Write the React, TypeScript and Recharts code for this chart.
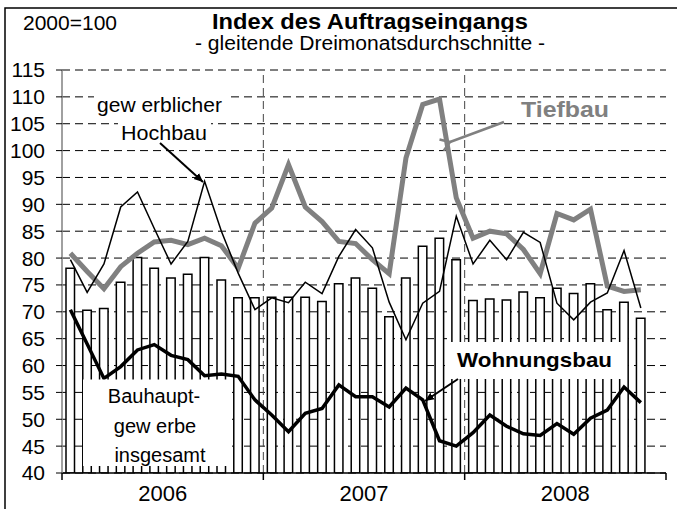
import React from "react";
import {
  Bar,
  CartesianGrid,
  ComposedChart,
  Line,
  ReferenceLine,
  XAxis,
  YAxis,
} from "recharts";

const FONT = '"Liberation Sans", Arial, sans-serif';

// 3-month moving averages, Jan 2006 .. Dec 2008 (Dec 2008 not yet available)
const months = [
  "01/06", "02/06", "03/06", "04/06", "05/06", "06/06", "07/06", "08/06", "09/06", "10/06", "11/06", "12/06",
  "01/07", "02/07", "03/07", "04/07", "05/07", "06/07", "07/07", "08/07", "09/07", "10/07", "11/07", "12/07",
  "01/08", "02/08", "03/08", "04/08", "05/08", "06/08", "07/08", "08/08", "09/08", "10/08", "11/08", "12/08",
];
const bauhaupt = [
  78.1, 70.3, 70.6, 75.5, 80.1, 78.1, 76.3, 77.0, 80.1, 75.9, 72.6, 72.6,
  72.7, 72.7, 72.7, 71.9, 75.2, 76.3, 74.4, 69.1, 76.3, 82.2, 83.7, 79.7,
  72.1, 72.4, 72.2, 73.7, 72.6, 74.4, 73.4, 75.2, 70.4, 71.8, 68.8, null,
];
const hochbau = [
  79.7, 73.6, 78.9, 89.5, 92.3, 85.5, 78.9, 83.1, 94.3, 85.0, 77.2, 70.4,
  72.6, 71.7, 75.5, 73.4, 80.3, 85.3, 81.9, 71.8, 64.8, 71.6, 73.8, 87.8,
  78.9, 83.3, 79.7, 84.8, 82.9, 71.6, 68.5, 71.8, 73.5, 81.4, 70.7, null,
];
const tiefbau = [
  80.9, 77.5, 74.3, 78.4, 80.9, 83.0, 83.3, 82.5, 83.7, 82.3, 78.1, 86.5,
  89.3, 97.4, 89.5, 86.8, 83.1, 82.7, 79.7, 77.1, 98.6, 108.6, 109.6, 91.2,
  83.7, 85.0, 84.5, 81.6, 77.1, 88.3, 87.1, 89.1, 74.8, 73.8, 74.1, null,
];
const wohnungsbau = [
  70.4, 64.0, 57.6, 59.8, 62.9, 63.9, 61.9, 61.1, 58.1, 58.4, 58.0, 53.6,
  50.8, 47.7, 51.1, 52.0, 56.4, 54.2, 54.2, 52.3, 55.8, 53.6, 46.0, 45.0,
  47.5, 50.8, 48.7, 47.3, 47.0, 49.2, 47.2, 50.2, 51.7, 56.0, 53.1, null,
];

const yTicks = [40, 45, 50, 55, 60, 65, 70, 75, 80, 85, 90, 95, 100, 105, 110, 115];
const years = ["2006", "2007", "2008"];
const yearStartIdx = [0, 12, 24];
// year label sits at the start of July, i.e. the middle of the year
const yearLabelIdx = [6, 18, 30];

const data = months.map((m, i) => ({
  m,
  bau: bauhaupt[i],
  hoch: hochbau[i],
  tief: tiefbau[i],
  wohn: wohnungsbau[i],
}));

const MonthTick = (props: any) => {
  const { x, y, payload, index } = props;
  const half = payload.offset ?? 0;
  const marks: React.ReactNode[] = [];
  if (yearStartIdx.includes(index)) {
    marks.push(<line key="s" x1={x - half} x2={x - half} y1={y} y2={y + 7} stroke="#000" strokeWidth={1.5} />);
  }
  if (index === months.length - 1) {
    marks.push(<line key="e" x1={x + half} x2={x + half} y1={y} y2={y + 7} stroke="#000" strokeWidth={1.5} />);
  }
  const li = yearLabelIdx.indexOf(index);
  if (li >= 0) {
    marks.push(
      <text key="t" x={x - half} y={y + 28} textAnchor="middle" fontSize={22} fontFamily={FONT} fill="#000">
        {years[li]}
      </text>
    );
  }
  return <g>{marks}</g>;
};

const Overlay = () => (
  <svg
    width={677}
    height={509}
    style={{ position: "absolute", left: 0, top: 0, pointerEvents: "none" }}
    fontFamily={FONT}
  >
    <defs>
      <marker id="headBlack" markerWidth="10" markerHeight="10" refX="9" refY="5" orient="auto" markerUnits="userSpaceOnUse">
        <path d="M0,1 L9,5 L0,9 z" fill="#000" />
      </marker>
      <marker id="headGray" markerWidth="14" markerHeight="14" refX="2" refY="7" orient="auto" markerUnits="userSpaceOnUse">
        <path d="M11,1 L2,7 L11,13" fill="none" stroke="#808080" strokeWidth={2.5} />
      </marker>
      <clipPath id="bauClip">
        <rect x={83} y={379} width={149} height={87} />
      </clipPath>
      <clipPath id="titleClip">
        <rect x={150} y={0} width={450} height={32} />
      </clipPath>
    </defs>
    <rect x={5} y={8} width={700} height={600} fill="none" stroke="#000" strokeWidth={1.5} />

    <text x={23} y={30} fontSize={20} textLength={94} lengthAdjust="spacingAndGlyphs">2000=100</text>
    <text
      x={370}
      y={29}
      fontSize={22}
      fontWeight="bold"
      textAnchor="middle"
      textLength={316}
      lengthAdjust="spacingAndGlyphs"
      clipPath="url(#titleClip)"
    >
      Index des Auftragseingangs
    </text>
    <text x={370} y={50} fontSize={19.5} textAnchor="middle" textLength={350} lengthAdjust="spacingAndGlyphs">
      - gleitende Dreimonatsdurchschnitte -
    </text>

    {/* gewerblicher Hochbau */}
    <rect x={94} y={95} width={132} height={21} fill="#fff" />
    <rect x={118} y={121} width={93} height={23} fill="#fff" />
    <text x={159.5} y={112} fontSize={20} textAnchor="middle" textLength={125} lengthAdjust="spacingAndGlyphs">gew erblicher</text>
    <text x={164} y={140} fontSize={20} textAnchor="middle" textLength={86} lengthAdjust="spacingAndGlyphs">Hochbau</text>
    <line x1={160} y1={143} x2={203} y2={182} stroke="#000" strokeWidth={2} markerEnd="url(#headBlack)" />

    {/* Tiefbau */}
    <text x={521} y={117} fontSize={22} fontWeight="bold" fill="#808080" textLength={88} lengthAdjust="spacingAndGlyphs">Tiefbau</text>
    <line x1={504} y1={122} x2={450} y2={142} stroke="#808080" strokeWidth={2.5} markerEnd="url(#headGray)" />

    {/* Wohnungsbau */}
    <rect x={445} y={342} width={182} height={37} fill="#fff" />
    <text x={457} y={367} fontSize={21} fontWeight="bold" textLength={155} lengthAdjust="spacingAndGlyphs">Wohnungsbau</text>
    <line x1={458} y1={379} x2={425} y2={401} stroke="#000" strokeWidth={2} markerEnd="url(#headBlack)" />

    {/* Bauhauptgewerbe insgesamt */}
    <rect x={83} y={379.5} width={149} height={86.5} fill="#fff" />
    <g clipPath="url(#bauClip)" fontSize={20} textAnchor="middle">
      <text x={154} y={403}>Bauhaupt-</text>
      <text x={155} y={433}>gew erbe</text>
      <text x={160} y={462}>insgesamt</text>
    </g>
  </svg>
);

export default function App() {
  return (
    <div style={{ position: "absolute", left: 0, top: 0, width: 677, height: 509, background: "#fff", overflow: "hidden" }}>
      <ComposedChart
        width={677}
        height={509}
        data={data}
        margin={{ top: 70, right: 11, bottom: 6, left: 5 }}
        barCategoryGap={0}
      >
        <CartesianGrid vertical={false} stroke="#000" strokeDasharray="8 5" />
        <XAxis
          dataKey="m"
          ticks={months}
          interval={0}
          height={30}
          tickSize={0}
          tickMargin={0}
          tickLine={false}
          axisLine={{ stroke: "#000", strokeWidth: 1.5 }}
          tick={<MonthTick />}
        />
        <YAxis
          domain={[40, 115]}
          ticks={yTicks}
          interval={0}
          allowDataOverflow
          width={57}
          tickSize={6}
          tickMargin={11}
          axisLine={{ stroke: "#808080", strokeWidth: 1.5 }}
          tickLine={{ stroke: "#000" }}
          tick={{ fontSize: 21, fill: "#000", fontFamily: FONT }}
        />
        <ReferenceLine x="01/07" position="start" stroke="#444" strokeDasharray="8 5" />
        <ReferenceLine x="01/08" position="start" stroke="#444" strokeDasharray="8 5" />
        <ReferenceLine x="12/08" position="end" stroke="#444" strokeDasharray="8 5" />
        <Bar dataKey="bau" fill="#fff" stroke="#000" strokeWidth={1.5} barSize={8.5} isAnimationActive={false} />
        <Line dataKey="tief" type="linear" stroke="#808080" strokeWidth={5} dot={false} isAnimationActive={false} />
        <Line dataKey="wohn" type="linear" stroke="#000" strokeWidth={3.5} dot={false} isAnimationActive={false} />
        <Line dataKey="hoch" type="linear" stroke="#000" strokeWidth={1.5} dot={false} isAnimationActive={false} />
      </ComposedChart>
      <Overlay />
    </div>
  );
}
